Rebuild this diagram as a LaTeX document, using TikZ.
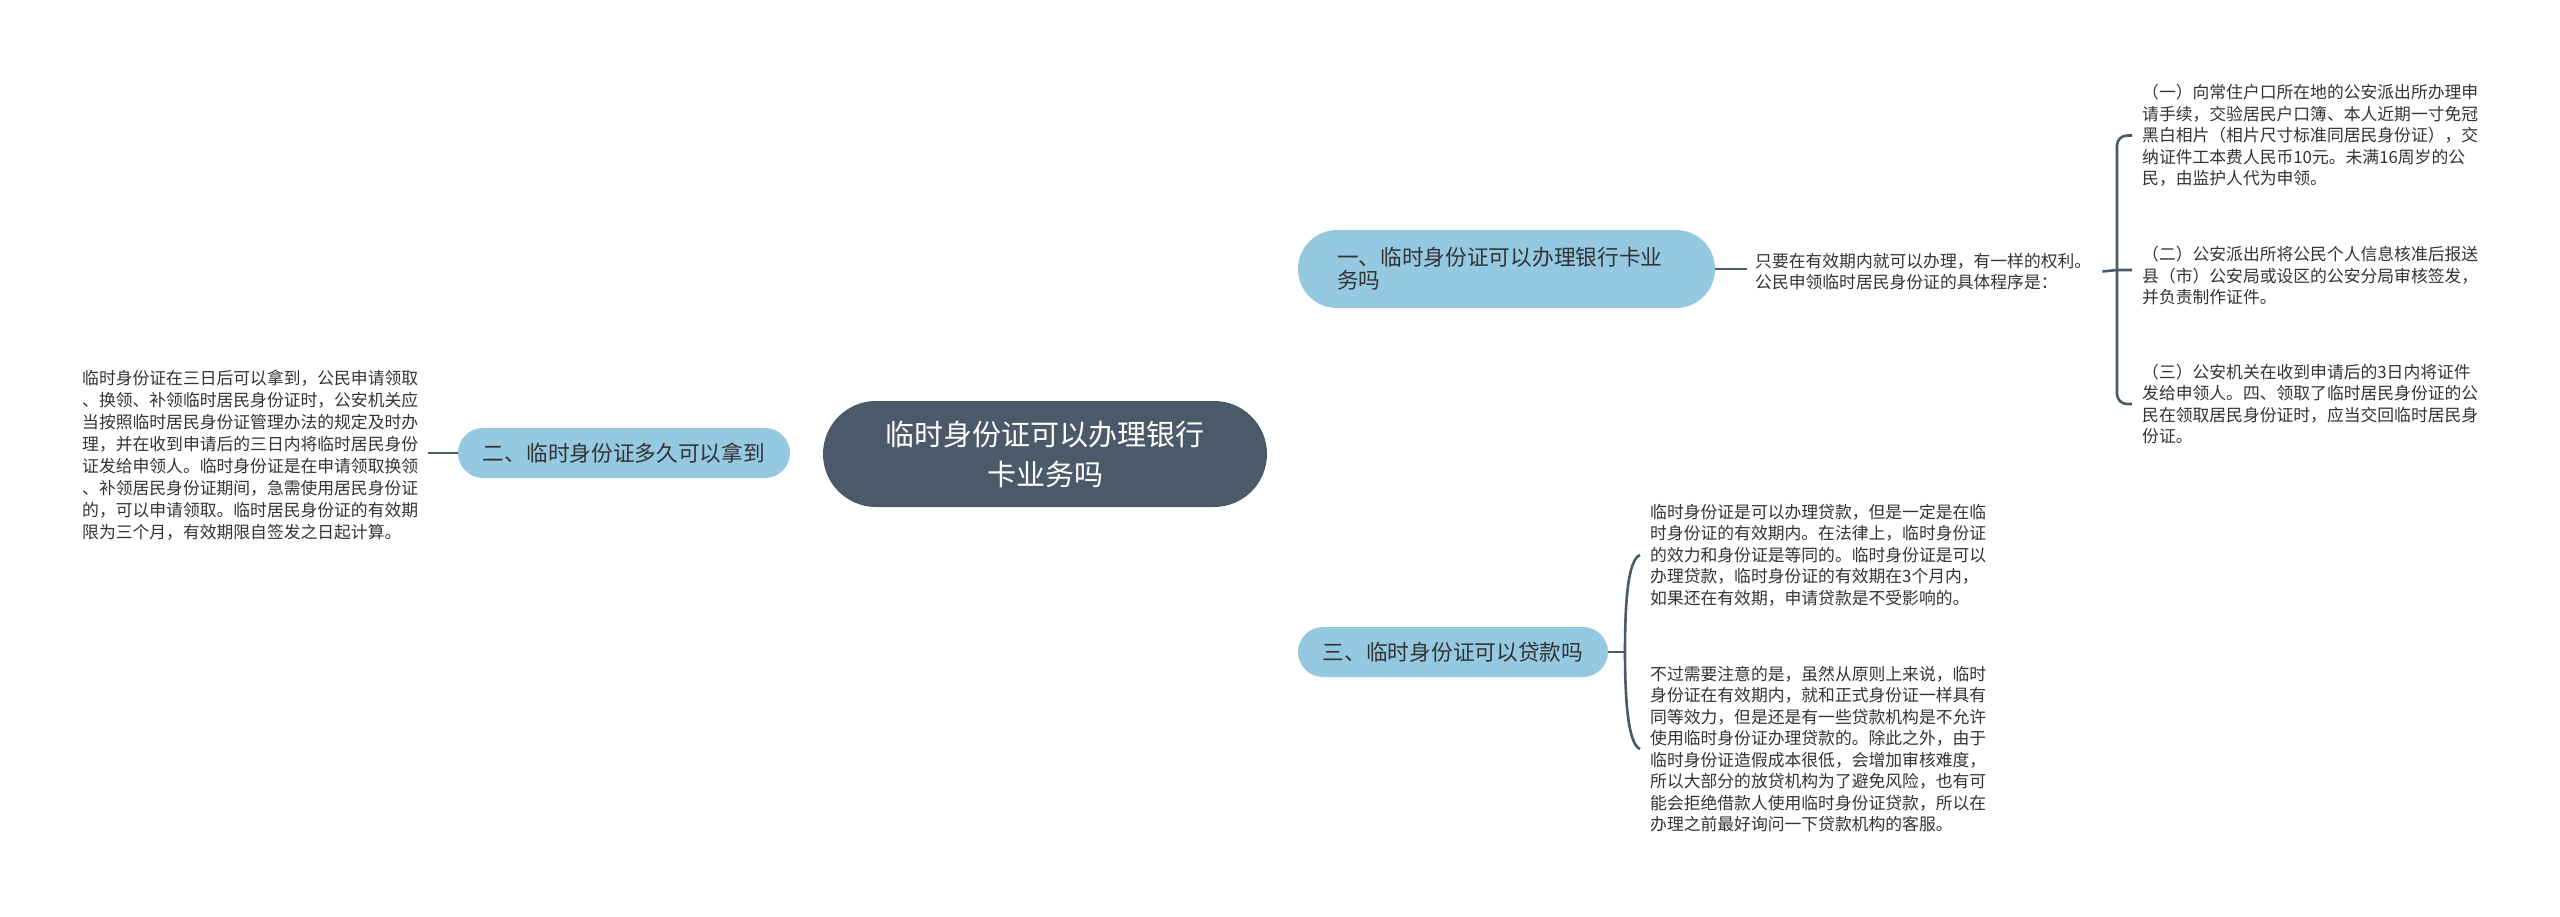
\documentclass[tikz,border=0pt]{standalone}
\usepackage{fontspec}
\setmainfont{Noto Sans CJK SC}
\usetikzlibrary{backgrounds}
\definecolor{dark}{HTML}{4B5A69}
\definecolor{lblue}{HTML}{95C9E1}
\definecolor{txt}{HTML}{333333}
\begin{document}
\begin{tikzpicture}[x=1pt,y=-1pt,
  conn/.style={draw=dark,line width=2.6pt},
  central/.style={fill=dark,text=white,rounded corners=53pt,minimum width=444pt,minimum height=106pt,align=center,inner sep=0pt,font=\fontsize{29}{40}\selectfont},
  branch/.style={fill=lblue,text=txt,inner ysep=0pt,font=\fontsize{21.7}{23}\selectfont},
  leaf/.style={text=txt,align=left,inner ysep=0pt,font=\fontsize{16.8}{21.5}\selectfont}
]
\fill[white] (0,0) rectangle (2560,917);
\useasboundingbox (0,0) rectangle (2560,917);

% central
\node[central] (c) at (1045,454) {临时身份证可以办理银行\\卡业务吗};

% branches
\node[branch,rounded corners=39pt,minimum width=417pt,minimum height=78pt,text width=339pt,inner xsep=39pt,align=left] (b1) at (1506.5,269) {一、临时身份证可以办理银行卡业\\务吗};
\node[branch,rounded corners=25pt,minimum width=332pt,minimum height=50pt,align=center] (b2) at (624,453) {二、临时身份证多久可以拿到};
\node[branch,rounded corners=25pt,minimum width=310pt,minimum height=50pt,align=center] (b3) at (1453,652) {三、临时身份证可以贷款吗};

% leaves
\node[leaf,anchor=west,inner xsep=8pt,text width=339pt,font=\fontsize{16.8}{21}\selectfont] (t1) at (1747,271.5) {只要在有效期内就可以办理，有一样的权利。\\公民申领临时居民身份证的具体程序是：};

\node[leaf,anchor=west,inner xsep=10pt,text width=340pt] (i1) at (2132,135.5) {（一）向常住户口所在地的公安派出所办理申\\请手续，交验居民户口簿、本人近期一寸免冠\\黑白相片（相片尺寸标准同居民身份证），交\\纳证件工本费人民币10元。未满16周岁的公\\民，由监护人代为申领。};
\node[leaf,anchor=west,inner xsep=10pt,text width=340pt] (i2) at (2132,276) {（二）公安派出所将公民个人信息核准后报送\\县（市）公安局或设区的公安分局审核签发，\\并负责制作证件。};
\node[leaf,anchor=west,inner xsep=10pt,text width=340pt] (i3) at (2132,404) {（三）公安机关在收到申请后的3日内将证件\\发给申领人。四、领取了临时居民身份证的公\\民在领取居民身份证时，应当交回临时居民身\\份证。};

\node[leaf,anchor=west,inner xsep=9pt,text width=337pt,font=\fontsize{16.8}{22}\selectfont] (t2) at (73,455) {临时身份证在三日后可以拿到，公民申请领取\\、换领、补领临时居民身份证时，公安机关应\\当按照临时居民身份证管理办法的规定及时办\\理，并在收到申请后的三日内将临时居民身份\\证发给申领人。临时身份证是在申请领取换领\\、补领居民身份证期间，急需使用居民身份证\\的，可以申请领取。临时居民身份证的有效期\\限为三个月，有效期限自签发之日起计算。};

\node[leaf,anchor=west,inner xsep=10pt,text width=340pt] (s1) at (1640,555) {临时身份证是可以办理贷款，但是一定是在临\\时身份证的有效期内。在法律上，临时身份证\\的效力和身份证是等同的。临时身份证是可以\\办理贷款，临时身份证的有效期在3个月内，\\如果还在有效期，申请贷款是不受影响的。};
\node[leaf,anchor=west,inner xsep=10pt,text width=340pt] (s2) at (1640,749) {不过需要注意的是，虽然从原则上来说，临时\\身份证在有效期内，就和正式身份证一样具有\\同等效力，但是还是有一些贷款机构是不允许\\使用临时身份证办理贷款的。除此之外，由于\\临时身份证造假成本很低，会增加审核难度，\\所以大部分的放贷机构为了避免风险，也有可\\能会拒绝借款人使用临时身份证贷款，所以在\\办理之前最好询问一下贷款机构的客服。};

\coordinate (j1) at (2117,270);
\coordinate (j3) at (1625,652);

\begin{pgfonlayer}{background}
\draw[conn] (c.center) .. controls (1052,300) and (1110,269) .. (b1.west);
\draw[conn] (c.center) .. controls (1052,610) and (1110,652) .. (b3.west);
\draw[conn] (c.west) -- (b2.east);
\end{pgfonlayer}

\draw[conn] (b1.east) -- (t1.west |- b1.east);
\draw[conn] (t1.east) -- (j1) -- (j1 -| i2.west);
\draw[conn,rounded corners=10pt] (i1.west) -| (j1) |- (i3.west);

\draw[conn] (b2.west) -- (t2.east |- b2.west);

\draw[conn] (b3.east) -- (j3);
\draw[conn] (s1.west) .. controls (1628,560) and (1625,600) .. (j3) .. controls (1625,700) and (1628,744) .. (s2.west);
\end{tikzpicture}
\end{document}
